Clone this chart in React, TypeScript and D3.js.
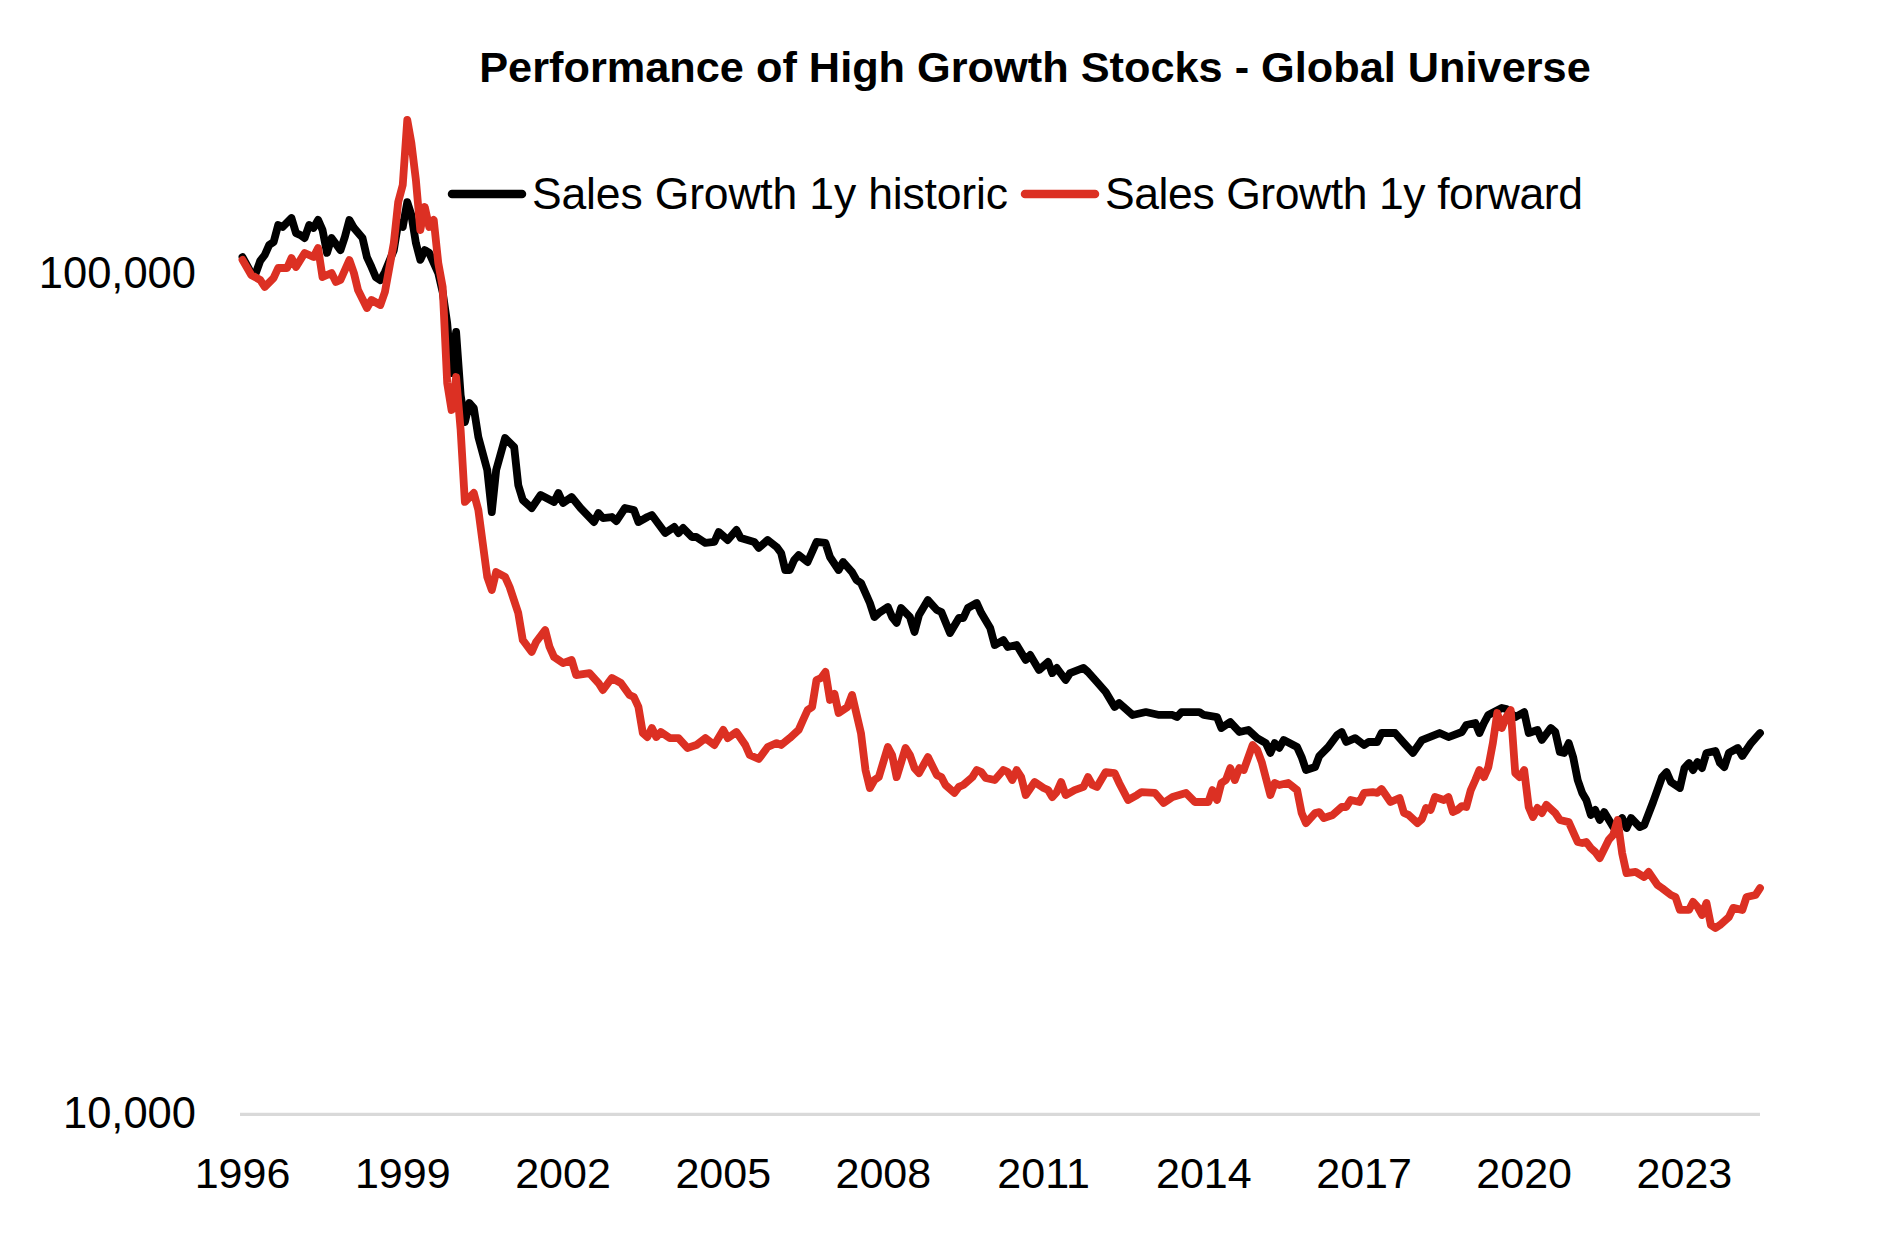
import React from "react";
import * as d3 from "d3";

// Monthly data, x = months since January 1996
const START = new Date(1996, 0, 1);
const END = new Date(2024, 5, 1);

const yearTicks = [1996, 1999, 2002, 2005, 2008, 2011, 2014, 2017, 2020, 2023];
const valueTicks = [10000, 100000];

const seriesNames = ["Sales Growth 1y historic", "Sales Growth 1y forward"];
const seriesColors = ["#000000", "#DC3023"];

// [months since Jan 1996, index value]
const historic: [number, number][] = [
  [0, 104600], [2, 100100], [3, 100100], [4, 103500], [5, 105200], [6, 108100], [7, 109000], [8, 114200],
  [9, 113600], [11, 116400], [12, 111700], [13, 111100], [14, 110200], [15, 114200], [16, 113300], [17, 115800],
  [18, 112700], [19, 105800], [20, 110200], [22, 106600], [23, 110500], [24, 115800], [25, 113300], [27, 110200],
  [28, 104600], [29, 101800], [30, 99000], [31, 98200], [32, 100400], [34, 106600], [35, 114800], [36, 113600],
  [37, 121600], [38, 117400], [39, 108700], [40, 103800], [41, 106600], [42, 105800], [44, 100100], [45, 95060],
  [46, 87320], [47, 76150], [48, 85200], [49, 71700], [50, 66580], [51, 70140], [52, 69190], [53, 63910],
  [55, 58380], [56, 52040], [57, 58380], [59, 63730], [61, 62180], [62, 56030], [63, 53780], [65, 52610],
  [67, 54520], [70, 53490], [71, 54820], [72, 53340], [74, 54220], [76, 52610], [79, 50630], [80, 51900],
  [81, 51190], [83, 51330], [84, 50770], [86, 52610], [88, 52330], [89, 50630], [91, 51330], [92, 51610],
  [95, 49130], [97, 49950], [98, 49130], [99, 49810], [101, 48600], [102, 48600], [104, 47810], [106, 47940],
  [107, 49270], [109, 48200], [111, 49540], [112, 48460], [115, 47940], [116, 47160], [118, 48200], [120, 47290],
  [121, 46510], [122, 44400], [123, 44400], [124, 45630], [125, 46260], [127, 45380], [129, 47940], [131, 47810],
  [132, 46010], [134, 44400], [135, 45380], [137, 44150], [138, 43200], [139, 42850], [141, 40560], [142, 39030],
  [143, 39460], [145, 40120], [146, 39030], [147, 38400], [148, 40010], [150, 39030], [151, 37470], [152, 39250],
  [154, 40890], [156, 39790], [157, 39570], [159, 37360], [161, 38930], [162, 38930], [163, 40010], [165, 40560],
  [166, 39460], [168, 37880], [169, 36150], [171, 36650], [172, 35960], [174, 36150], [176, 34700], [177, 35180],
  [179, 33760], [181, 34510], [182, 33480], [183, 33950], [185, 32850], [186, 33480], [189, 33950], [190, 33580],
  [192, 32670], [194, 31790], [196, 30510], [197, 30840], [200, 29850], [203, 30090], [206, 29850], [209, 29850],
  [210, 29680], [211, 30090], [215, 30090], [216, 29850], [219, 29680], [220, 28800], [222, 29280], [224, 28490],
  [226, 28650], [228, 28020], [230, 27640], [231, 26900], [232, 27640], [233, 27270], [234, 27870], [237, 27340],
  [238, 26600], [239, 25670], [241, 25880], [242, 26680], [244, 27340], [246, 28260], [247, 28490], [248, 27720],
  [250, 28020], [252, 27490], [253, 27720], [255, 27720], [256, 28410], [259, 28410], [261, 27640], [263, 26900],
  [265, 27870], [269, 28410], [271, 28100], [274, 28490], [275, 29040], [277, 29200], [278, 28410], [279, 29200],
  [280, 29850], [283, 30430], [284, 30340], [286, 29680], [288, 30090], [289, 28410], [291, 28650], [292, 27870],
  [294, 28800], [295, 28490], [296, 26970], [297, 26900], [298, 27640], [299, 26600], [300, 24980], [301, 24110],
  [302, 23650], [303, 22700], [304, 23010], [305, 22390], [306, 22880], [308, 21960], [310, 22510], [311, 21900],
  [312, 22510], [314, 21960], [315, 22080], [317, 23520], [319, 25180], [320, 25530], [321, 24840], [323, 24440],
  [324, 25810], [325, 26170], [326, 25670], [327, 26240], [328, 25810], [329, 26900], [331, 27050], [332, 26170],
  [333, 25880], [334, 26900], [336, 27270], [337, 26680], [339, 27640], [341, 28410],
];

const forward: [number, number][] = [
  [0, 103800], [2, 99590], [4, 98240], [5, 96370], [7, 98780], [8, 101520], [10, 101520], [11, 104340],
  [12, 101800], [14, 105770], [16, 104620], [17, 107230], [18, 99040], [20, 100140], [21, 97700], [22, 98240],
  [24, 103770], [25, 100140], [26, 95580], [28, 90980], [29, 93000], [31, 91730], [32, 95060], [34, 108710],
  [35, 121630], [36, 127410], [37, 152250], [38, 142960], [39, 129180], [40, 112650], [41, 119980], [42, 113580],
  [43, 115790], [44, 102920], [45, 96370], [46, 74090], [47, 68810], [48, 75320], [49, 65140], [50, 53490],
  [52, 54820], [53, 52330], [54, 47810], [55, 43560], [56, 42030], [57, 44150], [59, 43560], [60, 42380],
  [62, 39460], [63, 36650], [65, 35470], [66, 36450], [68, 37670], [69, 35960], [70, 34980], [72, 34410],
  [74, 34700], [75, 33300], [78, 33480], [80, 32580], [81, 31960], [83, 33030], [85, 32580], [87, 31530],
  [88, 31350], [89, 30510], [90, 28410], [91, 28100], [92, 28800], [93, 28100], [94, 28490], [96, 28020],
  [98, 28020], [100, 27270], [102, 27490], [104, 28020], [106, 27490], [108, 28650], [109, 28020], [111, 28490],
  [113, 27490], [114, 26750], [116, 26460], [118, 27340], [120, 27640], [121, 27490], [123, 28020], [125, 28650],
  [126, 29440], [127, 30260], [128, 30510], [129, 32850], [130, 33030], [131, 33580], [132, 31100], [133, 31620],
  [134, 30010], [136, 30510], [137, 31530], [139, 28410], [140, 25670], [141, 24440], [142, 24980], [143, 25180],
  [145, 27340], [146, 26750], [147, 25180], [149, 27270], [150, 26750], [151, 25810], [152, 25460], [154, 26600],
  [156, 25320], [157, 25180], [158, 24640], [160, 24110], [161, 24510], [162, 24640], [164, 25180], [165, 25670],
  [166, 25530], [167, 25120], [169, 24980], [171, 25670], [172, 25530], [173, 24980], [174, 25670], [175, 25180],
  [176, 23970], [178, 24840], [180, 24440], [181, 24300], [182, 23840], [183, 24170], [184, 24840], [185, 23970],
  [187, 24300], [189, 24510], [190, 25180], [191, 24640], [192, 24510], [194, 25530], [196, 25460], [197, 24780],
  [199, 23650], [201, 23970], [202, 24170], [205, 24110], [207, 23460], [209, 23840], [212, 24110], [214, 23520],
  [217, 23520], [218, 24300], [219, 23650], [220, 24780], [221, 24980], [222, 25810], [223, 24980], [224, 25810],
  [225, 25670], [227, 27490], [228, 27120], [229, 26240], [231, 23970], [232, 24780], [233, 24640], [235, 24780],
  [237, 24300], [238, 22820], [239, 22200], [241, 22820], [242, 22880], [243, 22510], [245, 22700], [247, 23200],
  [248, 23200], [249, 23650], [251, 23520], [252, 24110], [254, 24170], [255, 24110], [256, 24370], [258, 23520],
  [260, 23780], [261, 22820], [262, 22700], [264, 22200], [265, 22450], [266, 23140], [267, 23010], [268, 23840],
  [270, 23650], [271, 23840], [272, 22880], [273, 23010], [274, 23260], [275, 23200], [276, 24300], [277, 24980],
  [278, 25670], [279, 25180], [280, 25880], [281, 27640], [282, 30010], [283, 28800], [284, 29680], [285, 30260],
  [286, 25460], [287, 25180], [288, 25670], [289, 23200], [290, 22570], [291, 23140], [292, 22820], [293, 23330],
  [295, 22820], [296, 22390], [298, 22260], [300, 21080], [301, 21020], [302, 21080], [303, 20730], [304, 20510],
  [305, 20170], [307, 21200], [308, 21490], [309, 22390], [310, 20450], [311, 19360], [313, 19420], [315, 19150],
  [316, 19420], [318, 18740], [319, 18580], [321, 18230], [322, 18130], [323, 17500], [325, 17500], [326, 17890],
  [327, 17650], [328, 17260], [329, 17840], [330, 16790], [331, 16650], [332, 16790], [334, 17160], [335, 17600],
  [337, 17500], [338, 18130], [340, 18230], [341, 18580],
];

const FONT = "'Liberation Sans', Arial, sans-serif";

export default function App() {
  const W = 1898;
  const H = 1244;
  const x = d3.scaleTime().domain([START, END]).range([242.5, 1760]);
  const y = d3.scaleLog().domain([10000, 100000]).range([1114.3, 273.5]);

  const line = d3
    .line<[number, number]>()
    .x((d) => x(d3.timeMonth.offset(START, d[0])))
    .y((d) => y(d[1]));

  const fmt = d3.format(",");
  const series = [historic, forward];

  return (
    <svg
      width={W}
      height={H}
      viewBox={`0 0 ${W} ${H}`}
      style={{ position: "absolute", left: 0, top: 0, background: "#ffffff" }}
    >
      <rect x={0} y={0} width={W} height={H} fill="#ffffff" />
      <text
        x={1035}
        y={81.7}
        textAnchor="middle"
        fontFamily={FONT}
        fontWeight="bold"
        fontSize={43.3}
        fill="#000"
      >
        Performance of High Growth Stocks - Global Universe
      </text>

      {/* axis line at 10,000 */}
      <line x1={240} x2={1760} y1={y(10000)} y2={y(10000)} stroke="#d9d9d9" strokeWidth={3.3} />

      {valueTicks.map((v) => (
        <text
          key={v}
          x={196}
          y={y(v) + 14}
          textAnchor="end"
          fontFamily={FONT}
          fontSize={43.5}
          fill="#000"
        >
          {fmt(v)}
        </text>
      ))}

      {yearTicks.map((yr) => (
        <text
          key={yr}
          x={x(new Date(yr, 0, 1))}
          y={1188}
          textAnchor="middle"
          fontFamily={FONT}
          fontSize={43}
          fill="#000"
        >
          {yr}
        </text>
      ))}

      {series.map((s, i) => (
        <path
          key={i}
          d={line(s) || ""}
          fill="none"
          stroke={seriesColors[i]}
          strokeWidth={7.8}
          strokeLinejoin="round"
          strokeLinecap="round"
        />
      ))}

      {/* legend */}
      <line x1={452} x2={522} y1={194} y2={194} stroke={seriesColors[0]} strokeWidth={8.5} strokeLinecap="round" />
      <text x={532} y={209} fontFamily={FONT} fontSize={44.5} textLength={476} lengthAdjust="spacing" fill="#000">
        {seriesNames[0]}
      </text>
      <line x1={1025} x2={1095} y1={194} y2={194} stroke={seriesColors[1]} strokeWidth={8.5} strokeLinecap="round" />
      <text x={1105} y={209} fontFamily={FONT} fontSize={44.5} textLength={478} lengthAdjust="spacing" fill="#000">
        {seriesNames[1]}
      </text>
    </svg>
  );
}
